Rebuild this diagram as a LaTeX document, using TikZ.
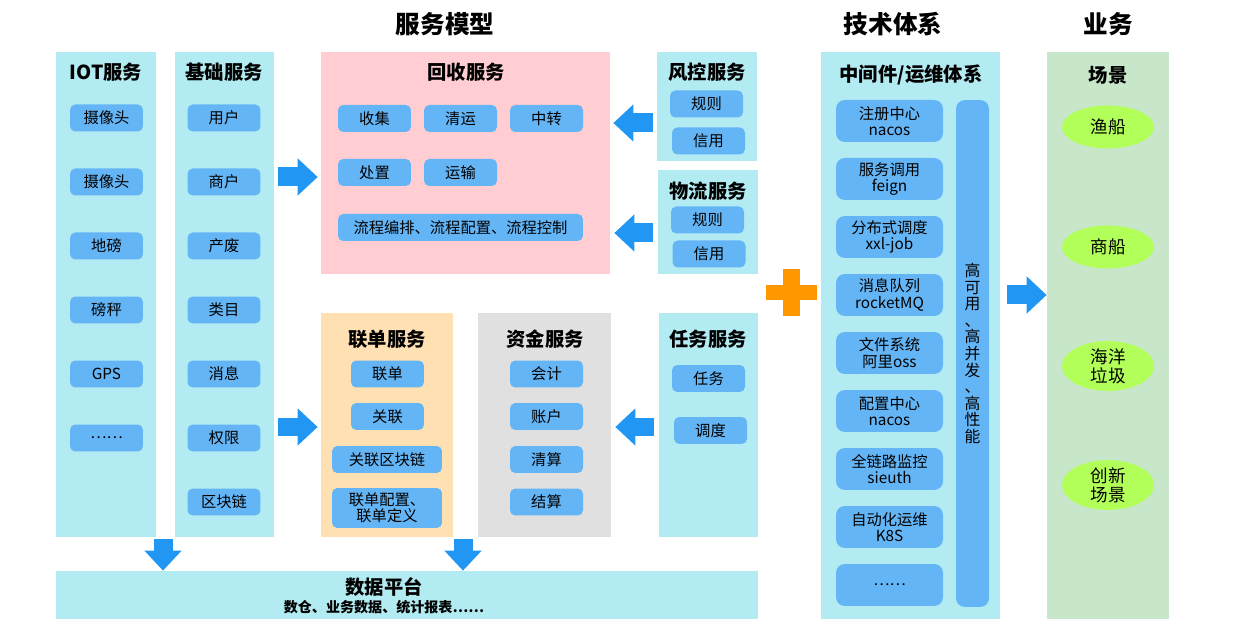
\documentclass[tikz,border=0pt]{standalone}
\usepackage{fontspec}
\setmainfont{Noto Sans CJK SC}
\usepackage{xcolor}
\usepackage{tikz}
\usetikzlibrary{arrows.meta,positioning,shapes.geometric,fit}
\definecolor{softcyan}{HTML}{B2EBF2}
\definecolor{itemblue}{HTML}{64B5F6}
\definecolor{softpink}{HTML}{FFCDD2}
\definecolor{softorange}{HTML}{FFE0B2}
\definecolor{softgray}{HTML}{E0E0E0}
\definecolor{softgreen}{HTML}{C8E6C9}
\definecolor{scenelime}{HTML}{B2FF59}
\definecolor{arrowblue}{HTML}{2196F3}
\definecolor{plusorange}{HTML}{FF9800}
\tikzset{
  column/.style={
    rectangle,
    fill=softcyan,
    inner sep=0pt
  },
  header/.style={
    font=\fontsize{14}{16}\selectfont\bfseries
  },
  coltitle/.style={
    font=\fontsize{11}{13}\selectfont\bfseries
  },
  item/.style={
    rectangle,
    rounded corners=3pt,
    fill=itemblue,
    minimum width=1.46cm,
    minimum height=0.54cm,
    inner sep=0pt,
    align=center,
    font=\fontsize{8.7}{9.4}\selectfont
  },
  wideitem/.style={
    item,
    minimum width=2.2cm
  },
  mwitem/.style={
    item,
    rounded corners=5pt,
    minimum width=2.14cm,
    minimum height=0.84cm
  },
  scene/.style={
    ellipse,
    fill=scenelime,
    minimum width=1.84cm,
    minimum height=0.86cm,
    inner sep=0pt,
    align=center,
    font=\fontsize{10}{10.8}\selectfont
  },
  bigarrow/.style={-{Triangle[length=0.4cm 0 0, width=0.72cm 0 0]}, line width=0.38cm, draw=arrowblue}
}
\begin{document}
\begin{tikzpicture}[x=0.02cm, y=-0.02cm]
\useasboundingbox (0,0) rectangle (1233,634);

\node[header] (hmodel) at (445,24) {服务模型};
\node[header] (htech) at (893,24) {技术体系};
\node[header] (hbiz) at (1108,24) {业务};

\node[column, fit={(56,52) (156,537)}] (iot) {};
\node[coltitle] (iottitle) at (106,72) {IOT服务};
\node[item] (cam1) at (106.5,118) {摄像头};
\node[item] (cam2) at (106.5,182) {摄像头};
\node[item] (scale) at (106.5,246) {地磅};
\node[item] (steelyard) at (106.5,310) {磅秤};
\node[item] (gps) at (106.5,374) {GPS};
\node[item] (iotmore) at (106.5,438) {……};

\node[column, fit={(175,52) (274,537)}] (base) {};
\node[coltitle] (basetitle) at (224,72) {基础服务};
\node[item] (user) at (224,118) {用户};
\node[item] (merchant) at (224,182) {商户};
\node[item] (waste) at (224,246) {产废};
\node[item] (category) at (224,310) {类目};
\node[item] (message) at (224,374) {消息};
\node[item] (permission) at (224,438) {权限};
\node[item] (chain) at (224,502) {区块链};

\node[column, fill=softpink, fit={(321,52) (610,274)}] (recycle) {};
\node[coltitle] (recycletitle) at (466,72) {回收服务};
\node[item] (collect) at (374.5,118.5) {收集};
\node[item] (haul) at (460.5,118.5) {清运};
\node[item] (transfer) at (546.5,118.5) {中转};
\node[item] (dispose) at (374.5,172.5) {处置};
\node[item] (transport) at (460.5,172.5) {运输};
\node[item, minimum width=4.9cm] (flow) at (460.5,227.5) {流程编排、流程配置、流程控制};

\node[column, fit={(657,52) (757,161)}] (risk) {};
\node[coltitle] (risktitle) at (707,72) {风控服务};
\node[item] (riskrule) at (706.5,104) {规则};
\node[item] (riskcredit) at (708.5,141) {信用};

\node[column, fit={(658,170) (758,274)}] (logistics) {};
\node[coltitle] (logtitle) at (708,191) {物流服务};
\node[item] (logrule) at (707.5,220) {规则};
\node[item] (logcredit) at (709,254) {信用};

\node[column, fill=softorange, fit={(321,313) (453,537)}] (link) {};
\node[coltitle] (linktitle) at (387,339) {联单服务};
\node[item] (linkform) at (387.5,374) {联单};
\node[item] (relate) at (387.5,416.5) {关联};
\node[wideitem] (relchain) at (387,459.5) {关联区块链};
\node[wideitem, minimum height=0.8cm] (linkconf) at (387,508) {联单配置、\\联单定义};

\node[column, fill=softgray, fit={(478,313) (611,537)}] (fund) {};
\node[coltitle] (fundtitle) at (545,339) {资金服务};
\node[item] (account) at (546.5,374) {会计};
\node[item] (ledger) at (546.5,416.5) {账户};
\node[item] (clearing) at (546.5,459.5) {清算};
\node[item] (settle) at (546.5,502) {结算};

\node[column, fit={(659,313) (758,537)}] (task) {};
\node[coltitle] (tasktitle) at (708,339) {任务服务};
\node[item] (taskitem) at (708.5,378.5) {任务};
\node[item] (dispatch) at (710.5,430.5) {调度};

\node[column, fit={(56,571) (758,619)}] (data) {};
\node[coltitle] (datatitle) at (384,587) {数据平台};
\node[font=\fontsize{8}{9}\selectfont\bfseries] (datasub) at (384,607) {数仓、业务数据、统计报表……};

\fill[plusorange] (783,269) rectangle (800,316);
\fill[plusorange] (766,285) rectangle (817,300);

\node[column, fit={(821,52) (1000,619)}] (tech) {};
\node[coltitle] (techtitle) at (911,75) {中间件/运维体系};
\node[mwitem] (registry) at (889.5,121) {注册中心\\nacos};
\node[mwitem] (invoke) at (889.5,179) {服务调用\\feign};
\node[mwitem] (sched) at (889.5,237) {分布式调度\\xxl-job};
\node[mwitem] (mq) at (889.5,295) {消息队列\\rocketMQ};
\node[mwitem] (files) at (889.5,353) {文件系统\\阿里oss};
\node[mwitem] (config) at (889.5,411) {配置中心\\nacos};
\node[mwitem] (trace) at (889.5,469) {全链路监控\\sieuth};
\node[mwitem] (ops) at (889.5,527) {自动化运维\\K8S};
\node[mwitem] (techmore) at (889.5,585) {……};
\node[item, rounded corners=5pt, minimum width=0.66cm, minimum height=10.14cm, font=\fontsize{9}{9.45}\selectfont] (hibar) at (972.5,353.5) {高\\可\\用\\、\\高\\并\\发\\、\\高\\性\\能};

\node[column, fill=softgreen, fit={(1047,52) (1169,619)}] (biz) {};
\node[coltitle] (biztitle) at (1108,75) {场景};
\node[scene] (fishing) at (1108,127) {渔船};
\node[scene] (cargo) at (1108,247) {商船};
\node[scene] (ocean) at (1108,366) {海洋\\垃圾};
\node[scene] (newscene) at (1108,485) {创新\\场景};

\coordinate (rowA) at (0,177);
\coordinate (rowB) at (0,427);
\coordinate (rowC) at (0,123);
\coordinate (rowD) at (0,233);
\coordinate (rowE) at (0,295);
\coordinate (colA) at (163,0);
\coordinate (colB) at (463,0);

\draw[bigarrow, shorten <=0.08cm, shorten >=0.06cm] (base.east |- rowA) -- (recycle.west |- rowA);
\draw[bigarrow, shorten <=0.08cm, shorten >=0.06cm] (base.east |- rowB) -- (link.west |- rowB);
\draw[bigarrow, shorten <=0.08cm, shorten >=0.06cm] (risk.west |- rowC) -- (recycle.east |- rowC);
\draw[bigarrow, shorten <=0.1cm, shorten >=0.08cm] (logistics.west |- rowD) -- (recycle.east |- rowD);
\draw[bigarrow, shorten <=0.1cm, shorten >=0.08cm] (task.west |- rowB) -- (fund.east |- rowB);
\draw[bigarrow, shorten <=0.04cm] (colA |- iot.south) -- (colA |- data.north);
\draw[bigarrow, shorten <=0.04cm] (colB |- link.south) -- (colB |- data.north);
\draw[bigarrow, shorten <=0.14cm] (tech.east |- rowE) -- (biz.west |- rowE);

\end{tikzpicture}
\end{document}
